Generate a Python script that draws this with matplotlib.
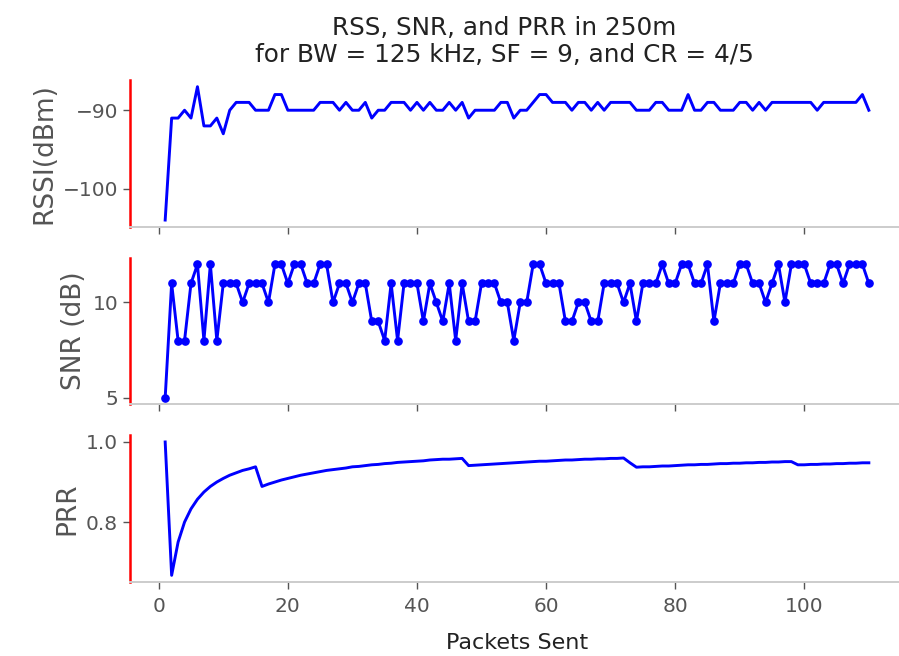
import matplotlib
matplotlib.use('Agg')
from matplotlib import pyplot as plt

# packets sent
packets = list(range(1, 111))

# RSSI (dBm) per packet
rssi = [-104, -91, -91, -90, -91, -87, -92, -92, -91, -93,
        -90, -89, -89, -89, -90, -90, -90, -88, -88, -90,
        -90, -90, -90, -90, -89, -89, -89, -90, -89, -90,
        -90, -89, -91, -90, -90, -89, -89, -89, -90, -89,
        -90, -89, -90, -90, -89, -90, -89, -91, -90, -90,
        -90, -90, -89, -89, -91, -90, -90, -89, -88, -88,
        -89, -89, -89, -90, -89, -89, -90, -89, -90, -89,
        -89, -89, -89, -90, -90, -90, -89, -89, -90, -90,
        -90, -88, -90, -90, -89, -89, -90, -90, -90, -89,
        -89, -90, -89, -90, -89, -89, -89, -89, -89, -89,
        -89, -90, -89, -89, -89, -89, -89, -89, -88, -90]

# SNR (dB) per packet
snr = [5, 11, 8, 8, 11, 12, 8, 12, 8, 11,
       11, 11, 10, 11, 11, 11, 10, 12, 12, 11,
       12, 12, 11, 11, 12, 12, 10, 11, 11, 10,
       11, 11, 9, 9, 8, 11, 8, 11, 11, 11,
       9, 11, 10, 9, 11, 8, 11, 9, 9, 11,
       11, 11, 10, 10, 8, 10, 10, 12, 12, 11,
       11, 11, 9, 9, 10, 10, 9, 9, 11, 11,
       11, 10, 11, 9, 11, 11, 11, 12, 11, 11,
       12, 12, 11, 11, 12, 9, 11, 11, 11, 12,
       12, 11, 11, 10, 11, 12, 10, 12, 12, 12,
       11, 11, 11, 12, 12, 11, 12, 12, 12, 11]

# packet reception ratio
prr = [1.000, 0.667, 0.750, 0.800, 0.833, 0.857, 0.875, 0.889, 0.900, 0.909,
       0.917, 0.923, 0.929, 0.933, 0.938, 0.889, 0.895, 0.900, 0.905, 0.909,
       0.913, 0.917, 0.920, 0.923, 0.926, 0.929, 0.931, 0.933, 0.935, 0.938,
       0.939, 0.941, 0.943, 0.944, 0.946, 0.947, 0.949, 0.950, 0.951, 0.952,
       0.953, 0.955, 0.956, 0.957, 0.957, 0.958, 0.959, 0.941, 0.942, 0.943,
       0.944, 0.945, 0.946, 0.947, 0.948, 0.949, 0.950, 0.951, 0.952, 0.952,
       0.953, 0.954, 0.955, 0.955, 0.956, 0.957, 0.957, 0.958, 0.958, 0.959,
       0.959, 0.960, 0.948, 0.937, 0.938, 0.938, 0.939, 0.940, 0.940, 0.941,
       0.942, 0.943, 0.943, 0.944, 0.944, 0.945, 0.946, 0.946, 0.947, 0.947,
       0.948, 0.948, 0.949, 0.949, 0.950, 0.950, 0.951, 0.951, 0.943, 0.943,
       0.944, 0.944, 0.945, 0.945, 0.946, 0.946, 0.947, 0.947, 0.948, 0.948]

plt.rcParams['font.family'] = 'DejaVu Sans'

fig, axes = plt.subplots(3, 1, sharex=True, figsize=(8.99, 6.56), dpi=100)
fig.subplots_adjust(left=0.1446, right=1.0056, top=0.878, bottom=0.1128, hspace=0.211)

ax1, ax2, ax3 = axes
ax1.plot(packets, rssi, color='blue', lw=2.1)
ax2.plot(packets, snr, color='blue', lw=2.1, marker='o', markersize=5.2)
ax3.plot(packets, prr, color='blue', lw=2.1)

ax1.set_yticks([-90, -100])
ax2.set_yticks([5, 10])
ax3.set_yticks([0.8, 1.0])
ax3.set_xticks([0, 20, 40, 60, 80, 100])

ax1.set_ylabel('RSSI(dBm)', fontsize=19, color='#555555')
ax2.set_ylabel('SNR (dB)', fontsize=19, color='#555555')
ax3.set_ylabel('PRR', fontsize=19, color='#555555')
ax3.set_xlabel('Packets Sent', fontsize=16, color='#222222', labelpad=12)

for ax in axes:
    ax.spines['top'].set_visible(False)
    ax.spines['right'].set_visible(False)
    ax.spines['left'].set_color('red')
    ax.spines['left'].set_linewidth(1.8)
    ax.spines['bottom'].set_color('#cccccc')
    ax.spines['bottom'].set_linewidth(1.4)
    ax.tick_params(axis='both', labelsize=14.5, labelcolor='#555555',
                   color='#555555', length=5, width=1)
ax3.tick_params(axis='x', pad=6)

fig.text(0.561, 1 - 62 / 656, 'RSS, SNR, and PRR in 250m\nfor BW = 125 kHz, SF = 9, and CR = 4/5',
         ha='center', va='baseline', fontsize=17.8, color='#222222',
         multialignment='center', linespacing=1.15)

fig.savefig('out.png', dpi=100)
